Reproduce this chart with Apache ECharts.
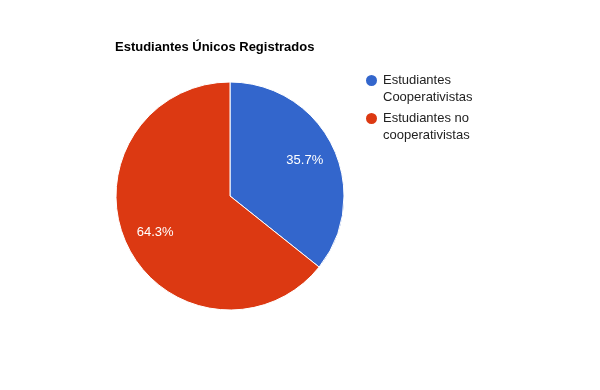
<!DOCTYPE html>
<html>
<head>
<meta charset="utf-8">
<script src="https://cdn.jsdelivr.net/npm/echarts@6/dist/echarts.min.js"></script>
<style>html,body{margin:0;padding:0;background:#fff}#c{width:600px;height:390px}</style>
</head>
<body>
<div id="c"></div>
<script>
const titleText = 'Estudiantes Únicos Registrados';
const categories = ['Estudiantes\nCooperativistas', 'Estudiantes no\ncooperativistas'];
const values = [5, 9];
const colors = ['#3366cc', '#dc3912'];

const chart = echarts.init(document.getElementById('c'), null, {renderer: 'canvas'});
const data = categories.map((n, i) => ({name: n, value: values[i]}));
const FONT = 'Arial, "Liberation Sans", sans-serif';
chart.setOption({
  animation: false,
  color: colors,
  title: {
    text: titleText, left: 110, top: 36,
    textStyle: {fontFamily: FONT, fontSize: 13, fontWeight: 'bold', color: '#000'}
  },
  legend: {
    data: categories,
    orient: 'vertical', left: 359, top: 50,
    icon: 'circle', itemWidth: 13, itemHeight: 13, itemGap: -13,
    selectedMode: false,
    formatter: n => '\n' + n,
    textStyle: {fontFamily: FONT, fontSize: 13, color: '#222', lineHeight: 17}
  },
  series: [
    {
      type: 'pie', center: [230, 196], radius: [0, 114],
      startAngle: 90, clockwise: true, silent: true,
      itemStyle: {borderColor: '#fff', borderWidth: 1},
      label: {show: false}, labelLine: {show: false},
      data: data
    },
    {
      type: 'pie', center: [230, 196], radius: [46, 114],
      startAngle: 90, clockwise: true, silent: true,
      legendHoverLink: false,
      itemStyle: {color: 'rgba(0,0,0,0)', borderWidth: 0},
      label: {
        show: true, position: 'inside', color: '#fff',
        fontFamily: FONT, fontSize: 13,
        formatter: p => p.percent.toFixed(1) + '%'
      },
      labelLine: {show: false},
      data: data.map(d => ({name: d.name + ' ', value: d.value}))
    }
  ]
});
</script>
</body>
</html>
